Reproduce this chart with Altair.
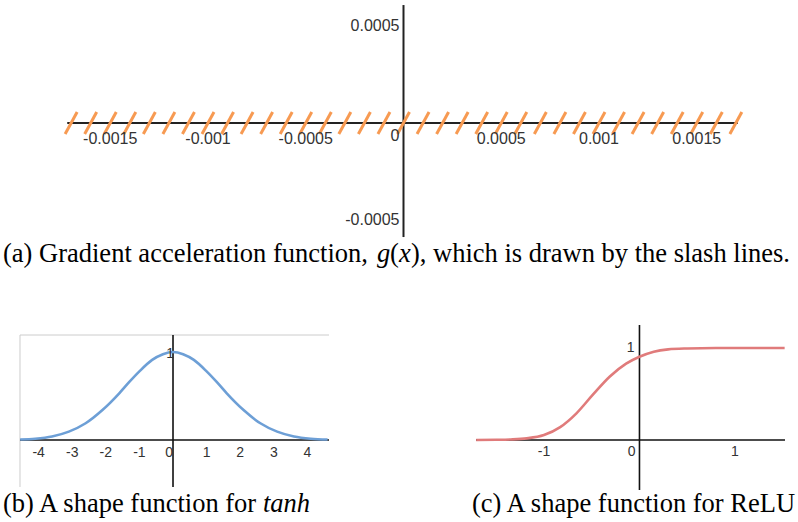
import altair as alt
import pandas as pd

# ---------------- Panel (a): gradient acceleration function ----------------
a_xtick_values = [-0.0015, -0.001, -0.0005, 0.0005, 0.001, 0.0015]
a_xtick_labels = ["-0.0015", "-0.001", "-0.0005", "0.0005", "0.001", "0.0015"]
a_ytick_values = [0.0005, -0.0005]
a_ytick_labels = ["0.0005", "-0.0005"]
a_slash_centers = [-0.0017, -0.0016, -0.0015, -0.0014, -0.0013, -0.0012, -0.0011,
                   -0.0010, -0.0009, -0.0008, -0.0007, -0.0006, -0.0005, -0.0004,
                   -0.0003, -0.0002, -0.0001, 0.0, 0.0001, 0.0002, 0.0003, 0.0004,
                   0.0005, 0.0006, 0.0007, 0.0008, 0.0009, 0.0010, 0.0011, 0.0012,
                   0.0013, 0.0014, 0.0015, 0.0016, 0.0017]
a_x_extent = [-0.00172, 0.00171]
a_y_extent = [-0.000588, 0.000608]
# caption pieces: (text, italic)
a_caption_text = ["(a) Gradient acceleration function,", "g", "(", "x", "),",
                  "which is drawn by the slash lines."]
a_caption_italic = [False, True, False, True, False, False]
a_caption_x = [3, 377, 390, 399, 411, 433]

# ---------------- Panel (b): shape function for tanh ----------------
b_x = [-4.55, -4.1, -3.6, -3.1, -2.6, -2.1, -1.6, -1.3, -1.0, -0.62, -0.3, 0.0,
       0.3, 0.62, 1.0, 1.3, 1.6, 2.1, 2.6, 3.1, 3.6, 4.1, 4.6]
b_y = [0.006, 0.015, 0.04, 0.095, 0.19, 0.34, 0.53, 0.66, 0.78, 0.91, 0.975, 1.0,
       0.975, 0.91, 0.78, 0.66, 0.53, 0.34, 0.19, 0.095, 0.04, 0.015, 0.006]
b_xtick_values = [-4, -3, -2, -1, 1, 2, 3, 4]
b_xtick_labels = ["-4", "-3", "-2", "-1", "1", "2", "3", "4"]
b_x_extent = [-4.554, 4.643]
b_y_extent = [-0.534, 1.193]
b_caption_text = ["(b) A shape function for", "tanh"]
b_caption_italic = [False, True]
b_caption_x = [3, 263]

# ---------------- Panel (c): shape function for ReLU ----------------
c_x = [-1.71, -1.5, -1.35, -1.18, -1.0, -0.83, -0.66, -0.49, -0.31, -0.14, 0.0,
       0.15, 0.3, 0.5, 0.8, 1.2, 1.52]
c_y = [0.0, 0.002, 0.006, 0.018, 0.054, 0.14, 0.29, 0.49, 0.69, 0.83, 0.905,
       0.96, 0.985, 0.995, 1.0, 1.0, 1.0]
c_xtick_values = [-1, 1]
c_xtick_labels = ["-1", "1"]
c_x_extent = [-1.712, 1.524]
c_y_extent = [-0.5435, 1.25]
c_caption_text = ["(c) A shape function for ReLU"]
c_caption_italic = [False]
c_caption_x = [73]

SANS = "Liberation Sans"
SERIF = "Liberation Serif"
LABEL_COLOR = "#333333"
CAP_SIZE = 26.5


def caption_layers(texts, italics, xs_px, y_px):
    out = []
    for t, it, xp in zip(texts, italics, xs_px):
        df = pd.DataFrame({"t": [t]})
        out.append(alt.Chart(df).mark_text(
            font=SERIF, fontSize=CAP_SIZE, color="#000000", align="left",
            baseline="alphabetic", fontStyle="italic" if it else "normal").encode(
            x=alt.value(xp), y=alt.value(y_px), text="t:N"))
    return out


def panel(xdom, ydom, x_extent, y_extent, xticks, xlabels, curve=None,
          color=None, one_label=None, zero_label=None, axis_color="#222222",
          axis_width=2.0, frame=False, label_size=14, xlabel_dy=13):
    xs = alt.Scale(domain=xdom, nice=False, zero=False)
    ys = alt.Scale(domain=ydom, nice=False, zero=False)
    layers = []

    if frame:
        top = pd.DataFrame({"x1": [x_extent[0]], "x2": [x_extent[1]], "y": [y_extent[1]]})
        layers.append(alt.Chart(top).mark_rule(color="#cccccc", strokeWidth=1).encode(
            x=alt.X("x1:Q", scale=xs, axis=None), x2="x2:Q",
            y=alt.Y("y:Q", scale=ys, axis=None)))
        left = pd.DataFrame({"x": [x_extent[0]], "y1": [y_extent[0]], "y2": [y_extent[1]]})
        layers.append(alt.Chart(left).mark_rule(color="#cccccc", strokeWidth=1).encode(
            x=alt.X("x:Q", scale=xs, axis=None),
            y=alt.Y("y1:Q", scale=ys, axis=None), y2="y2:Q"))

    hline = pd.DataFrame({"x1": [x_extent[0]], "x2": [x_extent[1]], "y": [0.0]})
    layers.append(alt.Chart(hline).mark_rule(color=axis_color, strokeWidth=axis_width).encode(
        x=alt.X("x1:Q", scale=xs, axis=None), x2="x2:Q",
        y=alt.Y("y:Q", scale=ys, axis=None)))
    vline = pd.DataFrame({"x": [0.0], "y1": [y_extent[0]], "y2": [y_extent[1]]})
    layers.append(alt.Chart(vline).mark_rule(color=axis_color, strokeWidth=axis_width).encode(
        x=alt.X("x:Q", scale=xs, axis=None),
        y=alt.Y("y1:Q", scale=ys, axis=None), y2="y2:Q"))

    if curve is not None:
        cdf = pd.DataFrame({"x": curve[0], "y": curve[1]})
        layers.append(alt.Chart(cdf).mark_line(color=color, strokeWidth=2.6,
                                               interpolate="monotone").encode(
            x=alt.X("x:Q", scale=xs, axis=None),
            y=alt.Y("y:Q", scale=ys, axis=None)))

    tdf = pd.DataFrame({"v": xticks, "label": xlabels, "zero": [0.0] * len(xticks)})
    layers.append(alt.Chart(tdf).mark_text(font=SANS, fontSize=label_size, color=LABEL_COLOR,
                                           align="center", baseline="middle", dy=xlabel_dy).encode(
        x=alt.X("v:Q", scale=xs, axis=None),
        y=alt.Y("zero:Q", scale=ys, axis=None),
        text="label:N"))

    if zero_label is not None:
        zdf = pd.DataFrame({"x": [0.0], "y": [0.0], "t": ["0"]})
        layers.append(alt.Chart(zdf).mark_text(font=SANS, fontSize=label_size, color=LABEL_COLOR,
                                               align="right", baseline="middle",
                                               dx=zero_label[0], dy=zero_label[1]).encode(
            x=alt.X("x:Q", scale=xs, axis=None),
            y=alt.Y("y:Q", scale=ys, axis=None), text="t:N"))

    if one_label is not None:
        odf = pd.DataFrame({"x": [0.0], "y": [1.0], "t": ["1"]})
        layers.append(alt.Chart(odf).mark_text(font=SANS, fontSize=label_size, color=LABEL_COLOR,
                                               align="right", baseline="middle",
                                               dx=one_label[0], dy=one_label[1]).encode(
            x=alt.X("x:Q", scale=xs, axis=None),
            y=alt.Y("y:Q", scale=ys, axis=None), text="t:N"))

    return layers, xs, ys


# ---- top panel ----
a_layers, axs, ays = panel(
    xdom=[-0.0020639, 0.0020179], ydom=[-0.000861, 0.000634],
    x_extent=a_x_extent, y_extent=a_y_extent,
    xticks=a_xtick_values, xlabels=a_xtick_labels,
    zero_label=(-4, 13), axis_color="#222222", axis_width=2.0,
    label_size=16, xlabel_dy=16)

slash_df = pd.DataFrame({"c": a_slash_centers})
slashes = alt.Chart(slash_df).mark_rule(color="#f79a52", strokeWidth=3).transform_calculate(
    x1="datum.c - 0.0000307", x2="datum.c + 0.0000307",
    y1="-0.0000567", y2="0.0000567").encode(
    x=alt.X("x1:Q", scale=axs, axis=None), x2="x2:Q",
    y=alt.Y("y1:Q", scale=ays, axis=None), y2="y2:Q")

ydf = pd.DataFrame({"zero": [0.0, 0.0], "v": a_ytick_values, "label": a_ytick_labels})
ylabels = alt.Chart(ydf).mark_text(font=SANS, fontSize=16, color=LABEL_COLOR, align="right",
                                   baseline="middle", dx=-4).encode(
    x=alt.X("zero:Q", scale=axs, axis=None),
    y=alt.Y("v:Q", scale=ays, axis=None), text="label:N")

top = alt.layer(*(a_layers[:2] + [slashes] + a_layers[2:] + [ylabels] +
                  caption_layers(a_caption_text, a_caption_italic, a_caption_x, 262))
                ).properties(width=798, height=290)

# ---- panel b ----
b_layers, _, _ = panel(
    xdom=[-5.149, 6.726], ydom=[-0.9318, 1.7045],
    x_extent=b_x_extent, y_extent=b_y_extent,
    xticks=b_xtick_values, xlabels=b_xtick_labels, curve=(b_x, b_y), color="#6d9fd6",
    one_label=(1, 2), zero_label=(0, 13), axis_color="#111111", axis_width=1.6,
    frame=True, label_size=14, xlabel_dy=13)
panel_b = alt.layer(*(b_layers + caption_layers(b_caption_text, b_caption_italic,
                                                b_caption_x, 222))
                    ).properties(width=399, height=232)

# ---- panel c ----
c_layers, _, _ = panel(
    xdom=[-2.518, 1.660], ydom=[-0.8913, 1.6304],
    x_extent=c_x_extent, y_extent=c_y_extent,
    xticks=c_xtick_values, xlabels=c_xtick_labels, curve=(c_x, c_y), color="#e07b7b",
    one_label=(-5, 0), zero_label=(-4, 12), axis_color="#111111", axis_width=1.6,
    label_size=14, xlabel_dy=12)
panel_c = alt.layer(*(c_layers + caption_layers(c_caption_text, c_caption_italic,
                                                c_caption_x, 222))
                    ).properties(width=399, height=232)

bottom = alt.hconcat(panel_b, panel_c, spacing=0, bounds="flush")
chart = alt.vconcat(top, bottom, spacing=0, bounds="flush").properties(
    padding=0, background="white"
).configure_view(strokeWidth=0).configure_concat(spacing=0)

chart.save("out.html", embed_options={"renderer": "svg", "actions": False})
